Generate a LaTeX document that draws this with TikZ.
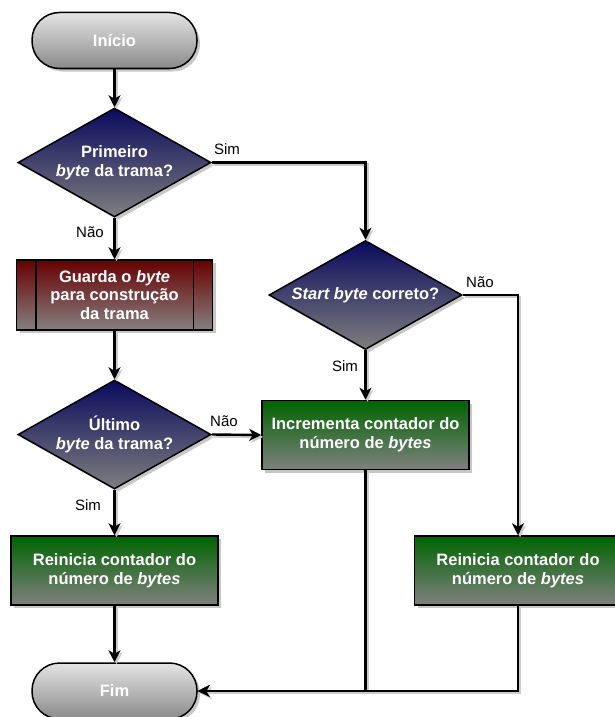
\documentclass[tikz,border=0pt]{standalone}
\usepackage{fontspec}
\setmainfont{Liberation Sans}
\usetikzlibrary{shapes.geometric,arrows.meta,shadows}

\definecolor{termtop}{HTML}{E4E4E4}
\definecolor{termbot}{HTML}{8A8A8A}
\definecolor{dectop}{HTML}{0A0A5E}
\definecolor{decbot}{HTML}{7E7E7E}
\definecolor{subtop}{HTML}{680000}
\definecolor{subbot}{HTML}{858080}
\definecolor{proctop}{HTML}{006400}
\definecolor{procbot}{HTML}{808080}

\begin{document}
\begin{tikzpicture}[x=1pt,y=-1pt,
  base/.style={draw=black, line width=1.5pt, text=white, align=center, inner sep=0pt,
    font=\fontsize{16.5}{18.8}\selectfont\bfseries,
    drop shadow={shadow xshift=3pt, shadow yshift=-3pt, fill=black!22, opacity=1}},
  term/.style={base, rectangle, rounded corners=27.5pt, minimum width=165pt,
    minimum height=56pt, top color=termtop, bottom color=termbot},
  decision/.style={base, diamond, aspect=1.77, minimum width=193pt,
    minimum height=109pt, top color=dectop, bottom color=decbot},
  subproc/.style={base, rectangle, minimum width=196pt, minimum height=70pt,
    top color=subtop, bottom color=subbot},
  proc/.style={base, rectangle, minimum width=207pt, minimum height=69pt,
    top color=proctop, bottom color=procbot},
  conn/.style={line width=2.4pt, -{Stealth[length=12pt, width=12pt, inset=3.5pt]},
    preaction={draw=black!20, line width=2.4pt, transform canvas={xshift=2pt, yshift=-2pt}}},
  lbl/.style={font=\fontsize{15}{18}\selectfont, text=black, inner sep=0pt}
]
\useasboundingbox (0,0) rectangle (614,717);

% nodes
\node[term] (ini) at (114.5,40.5) {Início};
\node[decision] (d1) at (114.5,162.5) {Primeiro\\\textit{byte} da trama?};
\node[subproc] (g) at (114.5,295) {Guarda o \textit{byte}\\para construção\\da trama};
\node[decision] (d2) at (365.5,295) {\textit{Start byte} correto?};
\node[decision] (d3) at (114.5,434.5) {Último\\\textit{byte} da trama?};
\node[proc] (inc) at (365.5,435) {Incrementa contador do\\número de \textit{bytes}};
\node[proc] (rl) at (114.5,570.5) {Reinicia contador do\\número de \textit{bytes}};
\node[proc] (rr) at (518,570.5) {Reinicia contador do\\número de \textit{bytes}};
\node[term] (fim) at (114.5,691) {Fim};

% inner bars of the predefined process box
\draw[line width=1.5pt] ([xshift=20pt]g.north west) -- ([xshift=20pt]g.south west);
\draw[line width=1.5pt] ([xshift=-20pt]g.north east) -- ([xshift=-20pt]g.south east);

% connectors
\draw[conn] (ini.south) -- (d1.north);
\draw[conn] (d1.east) -| (d2.north);
\draw[conn] (d1.south) -- (g.north);
\draw[conn] (g.south) -- (d3.north);
\draw[conn] (d3.east) -- (inc.west);
\draw[conn] (d3.south) -- (rl.north);
\draw[conn] (d2.south) -- (inc.north);
\draw[conn] (d2.east) -| (rr.north);
\draw[conn] (rl.south) -- (fim.north);
\draw[conn] (inc.south) |- (fim.east);
\draw[conn] (rr.south) |- (fim.east);

% branch labels
\node[lbl] (s1) at (227,149) {Sim};
\node[lbl] (n1) at (90,232) {Não};
\node[lbl] (n3) at (224,421) {Não};
\node[lbl] (s3) at (88,505) {Sim};
\node[lbl] (s2) at (345,366) {Sim};
\node[lbl] (n2) at (480,282) {Não};
\end{tikzpicture}
\end{document}
